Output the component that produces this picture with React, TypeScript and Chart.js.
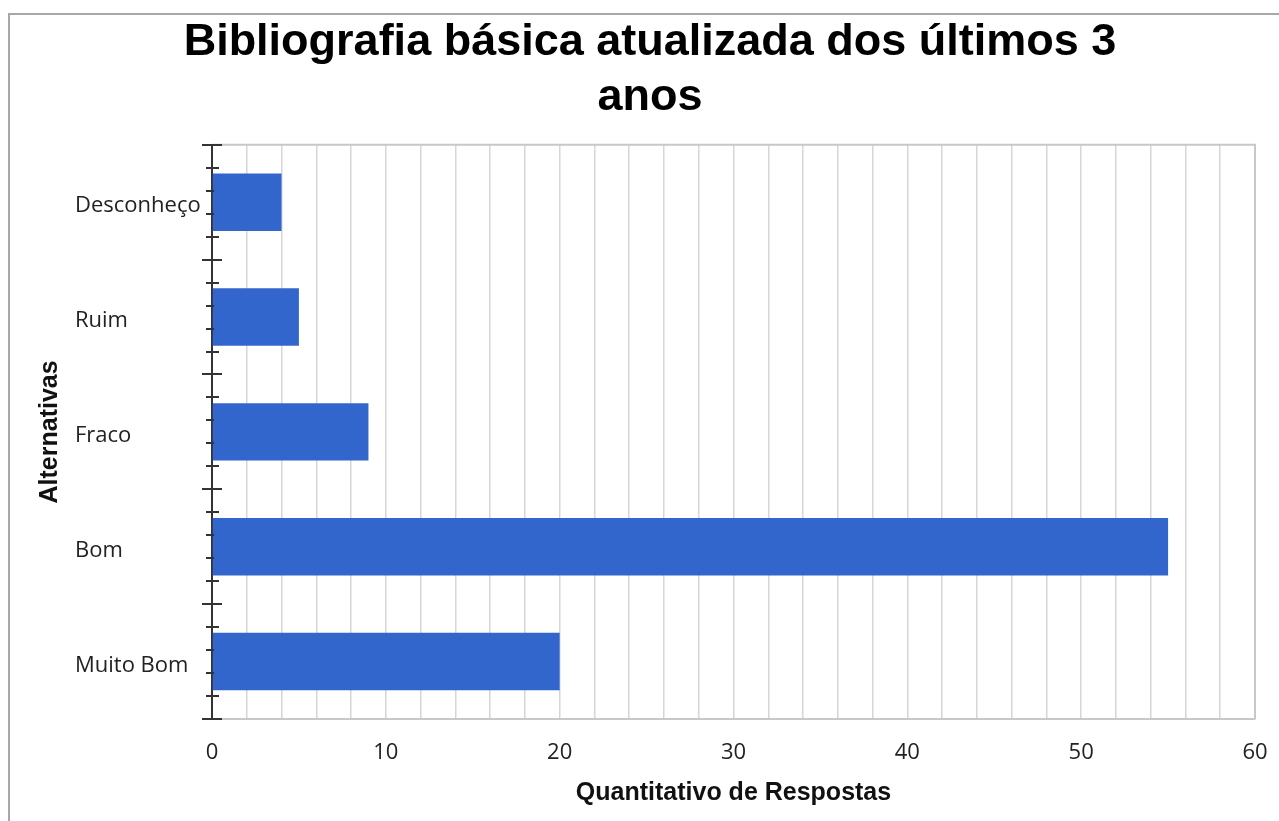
import React, { useEffect, useRef } from "react";
import { Chart, registerables } from "chart.js";

Chart.register(...registerables);

const categories = ["Desconheço", "Ruim", "Fraco", "Bom", "Muito Bom"];
const respostas = [4, 5, 9, 55, 20];
const xMin = 0;
const xMax = 60;
const xGridStep = 2;
const xLabelStep = 10;
const titleLines = ["Bibliografia básica atualizada dos últimos 3", "anos"];
const xTitle = "Quantitativo de Respostas";
const yTitle = "Alternativas";

const titleCenter = {
  id: "titleCenter",
  afterLayout(chart: any) {
    const tb = chart.titleBlock;
    if (tb) {
      tb.left = 0;
      tb.right = 1280;
    }
  },
};

const axisDecor = {
  id: "axisDecor",
  afterDraw(chart: any) {
    const { ctx, chartArea: area } = chart;
    const y = chart.scales.y;
    ctx.save();
    // top and right frame
    ctx.strokeStyle = "#c8c8c8";
    ctx.lineWidth = 2;
    ctx.beginPath();
    ctx.moveTo(area.left, area.top);
    ctx.lineTo(area.right, area.top);
    ctx.lineTo(area.right, area.bottom);
    ctx.stroke();
    // category tick marks (major at boundaries, minor in between)
    const ax = area.left;
    ctx.strokeStyle = "#333";
    ctx.lineWidth = 2;
    const n = categories.length;
    for (let i = 0; i <= n; i++) {
      const py = Math.round(y.getPixelForValue(i - 0.5));
      ctx.beginPath();
      ctx.moveTo(ax - 10, py);
      ctx.lineTo(ax + 10, py);
      ctx.stroke();
      if (i < n) {
        for (let k = 1; k < 5; k++) {
          const my = Math.round(y.getPixelForValue(i - 0.5 + k / 5));
          const right = k === 1 || k === 4 ? 7 : 2;
          ctx.beginPath();
          ctx.moveTo(ax - 6, my);
          ctx.lineTo(ax + right, my);
          ctx.stroke();
        }
      }
    }
    ctx.restore();
  },
};

export default function App() {
  const ref = useRef<HTMLCanvasElement>(null);

  useEffect(() => {
    if (!ref.current) return;
    const chart = new Chart(ref.current, {
      type: "bar",
      data: {
        labels: categories,
        datasets: [
          {
            data: respostas,
            backgroundColor: "#3366cc",
            borderWidth: 0,
            barPercentage: 0.5,
            categoryPercentage: 1,
          },
        ],
      },
      plugins: [titleCenter, axisDecor],
      options: {
        indexAxis: "y",
        responsive: false,
        animation: false,
        layout: { padding: { left: 65, right: 24, top: 0, bottom: 0 } },
        plugins: {
          legend: { display: false },
          tooltip: { enabled: false },
          title: {
            display: true,
            text: titleLines,
            color: "#000",
            font: { family: "'Liberation Sans', Arial, sans-serif", size: 45, weight: "bold", lineHeight: 1.22 },
            padding: { top: 0.5, bottom: 19.5 },
          },
        },
        scales: {
          x: {
            type: "linear",
            min: xMin,
            max: xMax,
            afterFit: (s: any) => {
              s.height = 102;
            },
            ticks: {
              stepSize: xGridStep,
              autoSkip: false,
              maxRotation: 0,
              padding: 1,
              color: "#222",
              font: { family: "'Open Sans', sans-serif", size: 22 },
              callback: (v: any) => (Number(v) % xLabelStep === 0 ? String(v) : ""),
            },
            grid: {
              color: "#d6d6d6",
              lineWidth: 1.5,
              drawTicks: true,
              tickLength: 20,
              tickColor: "rgba(0,0,0,0)",
            },
            border: { color: "#c8c8c8", width: 2 },
            title: {
              display: true,
              text: xTitle,
              color: "#111",
              font: { family: "'Liberation Sans', Arial, sans-serif", size: 25, weight: "bold", lineHeight: 1.2 },
              padding: { top: 0, bottom: 13 },
            },
          },
          y: {
            type: "category",
            afterFit: (s: any) => {
              s.width = 137;
            },
            ticks: {
              crossAlign: "far",
              padding: 14,
              labelOffset: 4,
              color: "#222",
              font: { family: "'Open Sans', sans-serif", size: 22 },
            },
            grid: { display: false, drawTicks: false },
            border: { color: "#333", width: 2 },
            title: {
              display: true,
              text: yTitle,
              color: "#111",
              font: { family: "'Liberation Sans', Arial, sans-serif", size: 25, weight: "bold", lineHeight: 1.2 },
              padding: { top: -40, bottom: 0 },
            },
          },
        },
      },
    });
    return () => chart.destroy();
  }, []);

  return (
    <div
      style={{
        position: "absolute",
        left: 8,
        top: 13,
        width: 1271,
        height: 808,
        boxSizing: "border-box",
        borderLeft: "2px solid #a8a8a8",
        borderTop: "2px solid #a8a8a8",
        background: "#fff",
        overflow: "hidden",
      }}
    >
      <canvas ref={ref} width={1269} height={806} style={{ display: "block" }} />
    </div>
  );
}
